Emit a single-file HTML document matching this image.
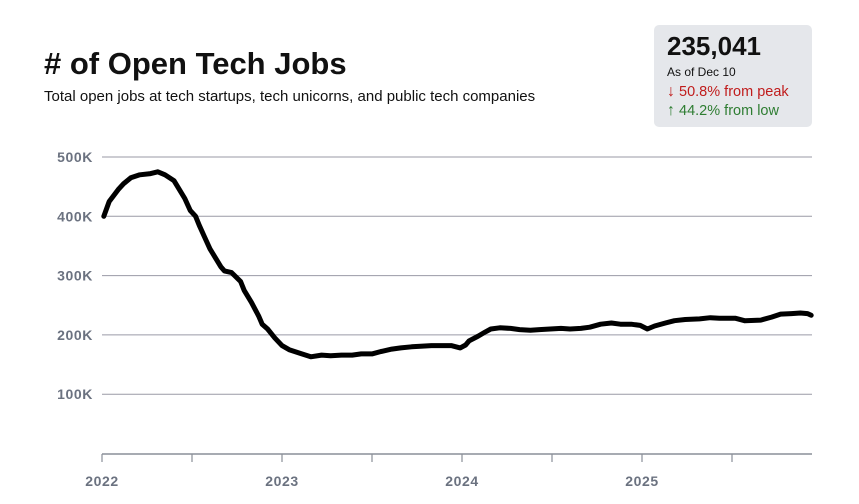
<!DOCTYPE html>
<html><head><meta charset="utf-8"><style>
body{margin:0;background:#fff;font-family:"Liberation Sans",sans-serif;}
#wrap{position:relative;width:859px;height:504px;overflow:hidden;}
.t{position:absolute;white-space:nowrap;}
</style></head><body>
<div id="wrap">
<div class="t" style="left:44px;top:46px;font-size:31px;font-weight:bold;color:#111;">&#35; of Open Tech Jobs</div>
<div class="t" style="left:44px;top:88px;font-size:15px;color:#111;">Total open jobs at tech startups, tech unicorns, and public tech companies</div>
<div style="position:absolute;left:654px;top:25px;width:158px;height:102px;background:#e5e7eb;border-radius:5px;">
<div class="t" style="left:13px;top:6px;font-size:26px;font-weight:bold;color:#111;">235,041</div>
<div class="t" style="left:13px;top:40px;font-size:12px;color:#111;">As of Dec 10</div>
<div class="t" style="left:13px;top:58px;font-size:14.5px;color:#c01c1c;"><b style="font-size:16px">&#8595;</b> 50.8% from peak</div>
<div class="t" style="left:13px;top:77px;font-size:14.5px;color:#2e7d32;"><b style="font-size:16px">&#8593;</b> 44.2% from low</div>
</div>
<svg id="chart" width="859" height="504" style="position:absolute;left:0;top:0"></svg>
</div>
<script>
const dates=[2022.01,2022.04,2022.09,2022.12,2022.16,2022.21,2022.27,2022.31,2022.35,2022.4,2022.46,2022.49,2022.52,2022.54,2022.57,2022.6,2022.63,2022.66,2022.68,2022.72,2022.77,2022.79,2022.83,2022.87,2022.89,2022.92,2022.96,2023.0,2023.04,2023.11,2023.16,2023.22,2023.27,2023.33,2023.39,2023.44,2023.5,2023.55,2023.61,2023.66,2023.72,2023.77,2023.83,2023.89,2023.94,2023.99,2024.02,2024.04,2024.09,2024.13,2024.16,2024.21,2024.27,2024.32,2024.38,2024.43,2024.49,2024.55,2024.6,2024.66,2024.71,2024.77,2024.83,2024.88,2024.94,2024.99,2025.03,2025.07,2025.13,2025.18,2025.24,2025.32,2025.38,2025.43,2025.52,2025.57,2025.66,2025.72,2025.77,2025.83,2025.88,2025.92,2025.94];
const values=[400,425,445,455,465,470,472,475,470,460,430,410,400,385,365,345,330,315,308,305,290,275,255,232,218,210,195,182,175,168,163,166,165,166,166,168,168,172,176,178,180,181,182,182,182,178,183,190,198,205,210,212,211,209,208,209,210,211,210,211,213,218,220,218,218,216,210,215,220,224,226,227,229,228,228,224,225,230,235,236,237,236,233];
const yTicks=[100,200,300,400,500];
const yTickLabels=["100K","200K","300K","400K","500K"];
const years=[2022,2023,2024,2025];
const NS="http://www.w3.org/2000/svg",svg=document.getElementById('chart');
const X0=102,X1=812,Y0=453.5,PY=0.593;
const xs=t=>X0+(t-2022)*180;
const ys=v=>Y0-v*PY;
function mk(tag,attrs){const e=document.createElementNS(NS,tag);for(const k in attrs)e.setAttribute(k,attrs[k]);svg.appendChild(e);return e;}
yTicks.forEach((v,i)=>{
 const g=mk('line',{x1:X0,x2:X1,y1:ys(v),y2:ys(v),stroke:'#9a9aa6','stroke-width':1});
 
 
 const t=mk('text',{x:93,y:ys(v)+5,'text-anchor':'end','font-size':14,'font-weight':'bold',fill:'#6b7280','font-family':'Liberation Sans, sans-serif','letter-spacing':'0.6'});
 t.textContent=yTickLabels[i];
 
 
});
const ax=mk('line',{x1:X0,x2:X1,y1:454,y2:454,stroke:'#8a8f98','stroke-width':1.5});


for(let q=0;q<8;q++){
 const x=xs(2022+q/2); if(x>X1)break;
 const tk=mk('line',{x1:x,x2:x,y1:454,y2:462,stroke:'#8a8f98','stroke-width':1.2});
 
 
}
years.forEach(y=>{
 const t=mk('text',{x:xs(y),y:486,'text-anchor':'middle','font-size':14,'font-weight':'bold',fill:'#6b7280','font-family':'Liberation Sans, sans-serif','letter-spacing':'0.6'});
 t.textContent=String(y);
 
 
});
const d=dates.map((t,i)=>(i?'L':'M')+xs(t).toFixed(1)+','+ys(values[i]).toFixed(1)).join('');
const p=mk('path',{d:d,fill:'none',stroke:'#000','stroke-width':5,'stroke-linejoin':'round','stroke-linecap':'round'});


</script>
</body></html>
